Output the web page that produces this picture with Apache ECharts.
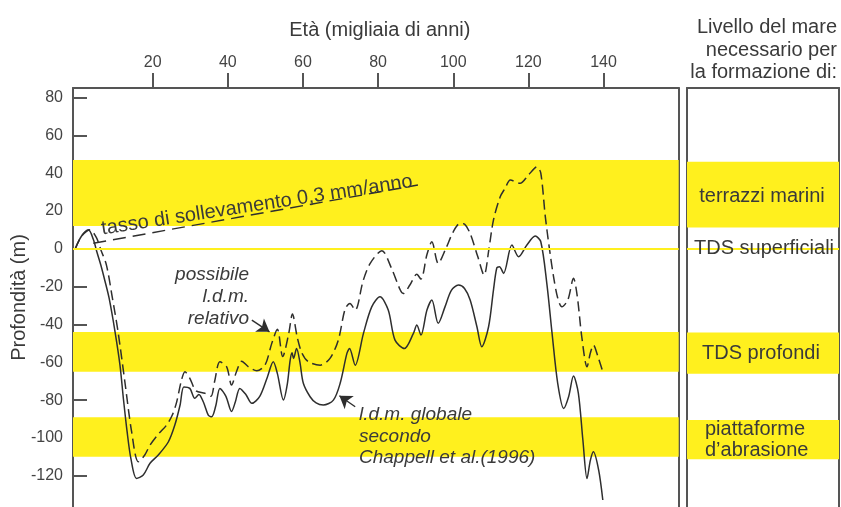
<!DOCTYPE html>
<html><head><meta charset="utf-8">
<script src="https://cdn.jsdelivr.net/npm/echarts@6/dist/echarts.min.js"></script>
<style>html,body{margin:0;padding:0;background:#fff}#c{width:841px;height:507px}</style>
</head><body><div id="c"></div>
<script>
// ---- data ----
const xTicks = [20, 40, 60, 80, 100, 120, 140];
const yTicks = [80, 60, 40, 20, 0, -20, -40, -60, -80, -100, -120];

// global sea level (Chappell et al. 1996), [age ky, depth m]
const globalSeaLevel = [[-0.6,0],[1,6.5],[2.9,10],[4.2,5],[5.2,-2],[6.2,-8.6],[7.3,-17],[8.4,-26],[10,-44],[11.3,-61.5],[12.2,-79],[13.2,-96.7],[14.2,-110.8],[15.7,-121.4],[17.5,-119.6],[19.3,-113.4],[21.5,-109],[24.2,-102],[25.9,-93.2],[27.3,-82.6],[28.3,-73],[29.9,-73.8],[31.2,-79],[32.3,-77],[33.5,-81],[34.8,-87.9],[35.7,-88.8],[36.8,-83],[37.9,-73.8],[39.5,-78],[41,-86],[42,-81],[43.2,-73.8],[44.8,-77],[46.4,-81.7],[48.5,-78],[50.5,-68],[52.1,-59.7],[53.2,-66],[54.8,-80],[55.8,-72],[56.6,-58.8],[57.1,-55],[57.5,-58],[58.3,-52.7],[59.2,-60],[60.1,-71.1],[61.9,-78.2],[63.5,-81.5],[65.4,-82.6],[68.1,-80],[69.9,-71.1],[71.7,-55.3],[72.4,-52.7],[73.9,-61.5],[76.1,-44.7],[78.3,-30.7],[80.5,-25.4],[82.7,-32.4],[84.5,-48.3],[87,-52.7],[89.4,-44.7],[90.3,-40.3],[91.4,-45.6],[93,-32.4],[94.3,-27.1],[96,-39.4],[97.8,-30.7],[99.5,-22],[101.4,-19.2],[103,-21],[104.5,-27.1],[106.3,-41.2],[107.6,-51.8],[109.4,-41.2],[110.7,-21.8],[111.6,-10],[112.3,-9.5],[113.4,-13],[115.6,2],[117.4,-4.2],[119.6,2],[121.8,6.7],[123.3,3.7],[124.9,-18.3],[126.3,-44.7],[127.8,-71.1],[129.4,-84.4],[130.7,-78.2],[132,-67.3],[133.3,-76.4],[134.5,-101.1],[135.6,-121.4],[136.5,-111.7],[137.3,-107.3],[138.7,-117],[139.8,-132.8]];

// possible relative sea level (dashed)
const relativeSeaLevel = [[-0.6,0],[1.2,7],[3.3,10],[5,6],[6.3,-1],[7.7,-8.6],[9.2,-25],[10.8,-44],[12.6,-70.3],[14.4,-96.7],[16.2,-112.6],[17.9,-109],[19.3,-103.8],[21.5,-98],[23.7,-93.2],[25.2,-88],[26.4,-80.9],[27.6,-70],[28.6,-65],[29.9,-68.5],[31.5,-75],[33.9,-76.4],[35.5,-78],[36.5,-70],[37.9,-59.7],[39.7,-62.4],[41,-72],[42.3,-65],[43.7,-59.4],[45.5,-62.4],[47.7,-64.5],[49.9,-61.5],[51.7,-50],[53.2,-42.6],[54.6,-57],[56.2,-45],[57.2,-34.5],[58.5,-47],[59.7,-55],[61.4,-59.7],[64.6,-61.5],[67.2,-57.9],[69.4,-48.3],[71.2,-32],[72.5,-28.9],[73.9,-32.4],[76,-17],[77.9,-7.7],[81,-1],[83.5,-10],[85.9,-21.8],[86.7,-23.6],[88.5,-19],[90.3,-13.5],[91.4,-16],[93,-3],[94.3,3.7],[96,-7.7],[98,0],[100,9],[101.8,13.4],[103,13],[104.5,8.1],[106.5,-4],[108.2,-13.9],[109.5,0],[110.7,15.2],[112.5,27.5],[113.8,32],[115.2,36.3],[117.8,34.6],[120,39],[122.3,43.3],[123.3,40],[124.5,17],[125.6,0],[126.7,-14.8],[127.8,-26],[128.9,-30.7],[130.5,-27],[132,-15.6],[133,-25],[134.2,-46.5],[135.6,-62.4],[136.5,-55],[137.3,-50.9],[138.5,-57],[139.8,-65]];

// uplift rate line 0.3 mm/yr
const upliftLine = [[4.2, 2.9], [90.6, 33.7]];

// sea-level bands (m) in the main plot and in the side panel
const bandsMain = [[12, 47], [-44, -65], [-89, -110]];
const bandsPanel = [[11.3, 46], [-44.2, -66], [-90.5, -111.3]];
const zeroLevel = 0;

// arrows (data coordinates: tail -> tip)
const arrowRelative = [[46.4, -37.7], [51.1, -43.9]];
const arrowGlobal = [[73.9, -83.5], [69.7, -77.7]];

// texts
const xTitle = 'Età (migliaia di anni)';
const yTitle = 'Profondità (m)';
const panelTitle = 'Livello del mare\nnecessario per\nla formazione di:';
const upliftLabel = 'tasso di sollevamento 0,3 mm/anno';
const relLabel = 'possibile\nl.d.m.\nrelativo';
const globLabel = 'l.d.m. globale\nsecondo\nChappell et al.(1996)';
const panelLabels = ['terrazzi marini', 'TDS superficiali', 'TDS profondi', 'piattaforme\nd\u2019abrasione'];

// ---- chart ----
const FONT = '"Liberation Sans", Arial, sans-serif';
const YELLOW = '#fff01e';
const LINE = '#2e2e2e';
const BOX = '#555555';
const TXT = '#3a3a3a';
const Y_MIN = -136.5, Y_MAX = 85;

const chart = echarts.init(document.getElementById('c'), null, {renderer: 'canvas'});

function bandAreas(b) {
  return b.map(([a, c]) => [{yAxis: a}, {yAxis: c}]);
}
const plainLine = {show: true, onZero: false, lineStyle: {color: BOX, width: 2}};

const option = {
  animation: false,
  textStyle: {fontFamily: FONT},
  grid: [
    {left: 73, top: 88, right: 162.3, bottom: 0, outerBoundsMode: 'none', containLabel: false},
    {left: 687, top: 88, right: 2, bottom: 0, outerBoundsMode: 'none', containLabel: false}
  ],
  xAxis: [
    {
      gridIndex: 0, type: 'value', position: 'top', min: -1.2, max: 160,
      axisLine: plainLine,
      axisTick: {show: true, customValues: xTicks, length: 15, inside: false, lineStyle: {color: BOX, width: 2}},
      axisLabel: {show: true, customValues: xTicks, fontSize: 16, color: '#444', margin: 17},
      splitLine: {show: false},
      name: xTitle, nameLocation: 'middle', nameGap: 48,
      nameTextStyle: {fontSize: 20, color: TXT, padding: [0, 0, 0, 8]}
    },
    {
      gridIndex: 1, type: 'value', position: 'top', min: 0, max: 1,
      axisLine: plainLine,
      axisTick: {show: false}, axisLabel: {show: false}, splitLine: {show: false}
    }
  ],
  yAxis: [
    {
      gridIndex: 0, type: 'value', min: Y_MIN, max: Y_MAX, position: 'left',
      axisLine: plainLine,
      axisTick: {show: true, customValues: yTicks, inside: true, length: 14, lineStyle: {color: BOX, width: 2}},
      axisLabel: {show: true, customValues: yTicks, fontSize: 16, color: '#444', margin: 10},
      splitLine: {show: false},
      name: yTitle, nameLocation: 'middle', nameGap: 44, nameRotate: 90, nameMoveOverlap: false,
      nameTextStyle: {fontSize: 20, color: TXT}
    },
    {
      gridIndex: 0, type: 'value', min: Y_MIN, max: Y_MAX, position: 'right',
      axisLine: plainLine,
      axisTick: {show: false}, axisLabel: {show: false}, splitLine: {show: false}
    },
    {
      gridIndex: 1, type: 'value', min: Y_MIN, max: Y_MAX, position: 'left',
      axisLine: plainLine,
      axisTick: {show: false}, axisLabel: {show: false}, splitLine: {show: false}
    },
    {
      gridIndex: 1, type: 'value', min: Y_MIN, max: Y_MAX, position: 'right',
      axisLine: plainLine,
      axisTick: {show: false}, axisLabel: {show: false}, splitLine: {show: false}
    }
  ],
  series: [
    {
      name: 'bands', type: 'line', xAxisIndex: 0, yAxisIndex: 0, data: [], z: 1, silent: true,
      markArea: {silent: true, itemStyle: {color: YELLOW, opacity: 1}, data: bandAreas(bandsMain)},
      markLine: {silent: true, symbol: ['none', 'none'], label: {show: false},
        lineStyle: {color: YELLOW, width: 2, type: 'solid'}, data: [{yAxis: zeroLevel}]}
    },
    {
      name: 'panelBands', type: 'line', xAxisIndex: 1, yAxisIndex: 2, data: [], z: 1, silent: true,
      markArea: {silent: true, itemStyle: {color: YELLOW, opacity: 1}, data: bandAreas(bandsPanel)},
      markLine: {silent: true, symbol: ['none', 'none'], label: {show: false},
        lineStyle: {color: YELLOW, width: 2, type: 'solid'}, data: [{yAxis: zeroLevel}]}
    },
    {
      name: 'uplift', type: 'line', xAxisIndex: 0, yAxisIndex: 0, data: upliftLine, z: 3,
      symbol: 'none', lineStyle: {color: LINE, width: 1.4, type: [13, 7]}
    },
    {
      name: 'global', type: 'line', xAxisIndex: 0, yAxisIndex: 0, data: globalSeaLevel, z: 4,
      symbol: 'none', smooth: 0.3, lineStyle: {color: LINE, width: 1.5, type: 'solid'},
      markLine: {
        silent: true, symbol: ['none', 'arrow'], symbolSize: 12, label: {show: false},
        lineStyle: {color: LINE, width: 1.4, type: 'solid'},
        data: [
          [{coord: arrowRelative[0]}, {coord: arrowRelative[1]}],
          [{coord: arrowGlobal[0]}, {coord: arrowGlobal[1]}]
        ]
      }
    },
    {
      name: 'relative', type: 'line', xAxisIndex: 0, yAxisIndex: 0, data: relativeSeaLevel, z: 4,
      symbol: 'none', smooth: 0.3, lineStyle: {color: LINE, width: 1.5, type: [10, 5]}
    }
  ],
  graphic: [
    {type: 'text', x: 837, y: 16.5, z: 10, style: {text: panelTitle, align: 'right', verticalAlign: 'top',
      font: '20px ' + FONT, lineHeight: 22.5, fill: TXT}},
    {type: 'text', x: 103, y: 239, rotation: 0.152, z: 10, style: {text: upliftLabel, align: 'left', verticalAlign: 'bottom',
      font: '20px ' + FONT, fill: TXT}},
    {type: 'text', x: 249, y: 264, z: 10, style: {text: relLabel, align: 'right', verticalAlign: 'top',
      font: 'italic 19px ' + FONT, lineHeight: 22, fill: TXT}},
    {type: 'text', x: 359, y: 404, z: 10, style: {text: globLabel, align: 'left', verticalAlign: 'top',
      font: 'italic 19px ' + FONT, lineHeight: 21.5, fill: TXT}},
    {type: 'text', x: 762, y: 196, z: 10, style: {text: panelLabels[0], align: 'center', verticalAlign: 'middle',
      font: '20px ' + FONT, fill: TXT}},
    {type: 'text', x: 764, y: 248, z: 10, style: {text: panelLabels[1], align: 'center', verticalAlign: 'middle',
      font: '20px ' + FONT, fill: TXT}},
    {type: 'text', x: 702, y: 353, z: 10, style: {text: panelLabels[2], align: 'left', verticalAlign: 'middle',
      font: '20px ' + FONT, fill: TXT}},
    {type: 'text', x: 705, y: 418.5, z: 10, style: {text: panelLabels[3], align: 'left', verticalAlign: 'top',
      font: '20px ' + FONT, lineHeight: 21, fill: TXT}}
  ]
};
chart.setOption(option);
</script>
</body></html>
